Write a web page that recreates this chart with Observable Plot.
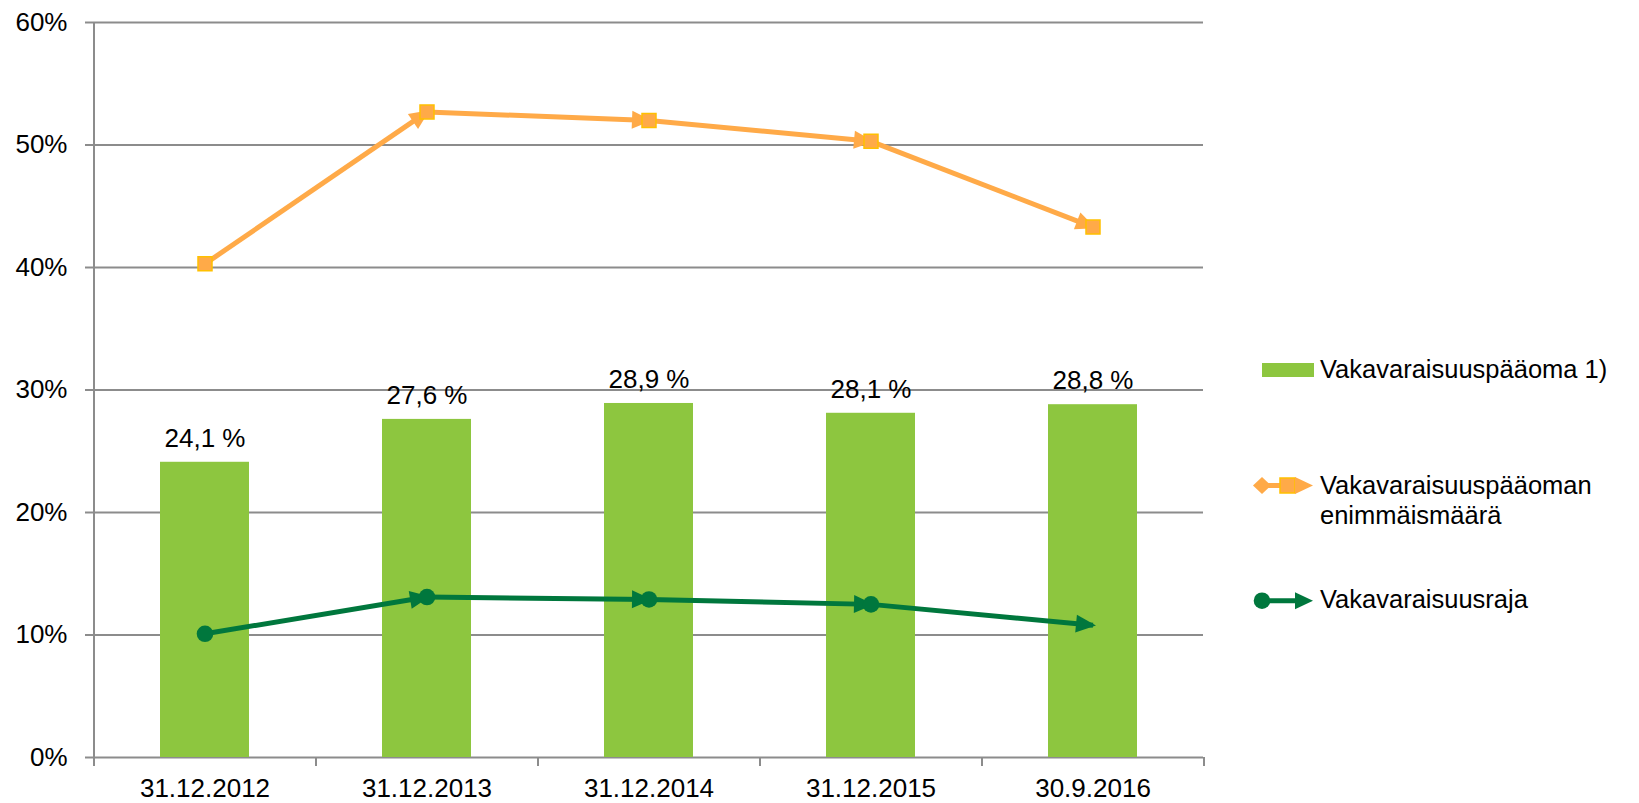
<!DOCTYPE html>
<html><head><meta charset="utf-8">
<script src="https://cdn.jsdelivr.net/npm/d3@7"></script>
<script src="https://cdn.jsdelivr.net/npm/@observablehq/plot@0.6"></script>
<style>
body{margin:0;background:#fff;}
#wrap{position:relative;width:1639px;height:803px;overflow:hidden;}
#legend{position:absolute;left:0;top:0;pointer-events:none;}
</style></head><body><div id="wrap"></div>
<script>
// ---- data ----
const categories = ["31.12.2012", "31.12.2013", "31.12.2014", "31.12.2015", "30.9.2016"];
const vakavaraisuuspaaoma = [24.1, 27.6, 28.9, 28.1, 28.8];
const enimmaismaara = [40.3, 52.7, 52.0, 50.3, 43.3];
const vakavaraisuusraja = [10.1, 13.1, 12.9, 12.5, 10.8];
const rajaPointMarker = [true, true, true, true, false];
const yTicks = [0, 10, 20, 30, 40, 50, 60];
const seriesNames = ["Vakavaraisuuspääoma 1)", ["Vakavaraisuuspääoman", "enimmäismäärä"], "Vakavaraisuusraja"];

// ---- style ----
const GREEN = "#8DC63F", ORANGE = "#FFAA48", ORANGE_EDGE = "#FFC000", DARK = "#00773D", GRID = "#8C8C8C";
const FONT = "'Liberation Sans', Arial, sans-serif";
const FS = 26;
const W = 1639, H = 803, ML = 93, MR = 436, MT = 22, MB = 46;
const step = (W - ML - MR) / categories.length;
const plotH = H - MT - MB;

const bars = categories.map((c, i) => ({c, v: vakavaraisuuspaaoma[i], label: vakavaraisuuspaaoma[i].toFixed(1).replace(".", ",") + " %"}));
const pts = (vals) => categories.map((c, i) => ({c, v: vals[i], i}));
const segs = (vals) => vals.slice(1).map((v, i) => ({c1: categories[i], v1: vals[i], c2: categories[i + 1], v2: v}));

const chart = Plot.plot({
  width: W, height: H,
  marginLeft: ML, marginRight: MR, marginTop: MT, marginBottom: MB,
  style: {fontFamily: FONT, fontSize: FS + "px", color: "#000", background: "#fff"},
  x: {domain: categories, paddingInner: 0.6, paddingOuter: 0.3, label: null},
  y: {domain: [0, 60], label: null},
  marks: [
    Plot.gridY(yTicks, {stroke: GRID, strokeOpacity: 1, strokeWidth: 2}),
    Plot.barY(bars, {x: "c", y: "v", fill: GREEN}),
    Plot.ruleX([categories[0]], {dx: -step / 2, stroke: GRID, strokeWidth: 2, insetBottom: -9}),
    Plot.ruleX(categories, {dx: -step / 2, stroke: GRID, strokeWidth: 2, insetTop: plotH, insetBottom: -9}),
    Plot.ruleX([categories[categories.length - 1]], {dx: step / 2, stroke: GRID, strokeWidth: 2, insetTop: plotH, insetBottom: -9}),
    Plot.axisY(yTicks, {tickSize: 8, tickPadding: 18, stroke: GRID, strokeWidth: 2, fill: "#000", fontSize: FS, tickFormat: d => d + "%", label: null}),
    Plot.axisX({tickSize: 0, tickPadding: 21, fill: "#000", fontSize: FS, label: null}),
    Plot.text(bars, {x: "c", y: "v", text: "label", dy: -24, fill: "#000", fontSize: FS}),
    Plot.link(segs(enimmaismaara), {x1: "c1", y1: "v1", x2: "c2", y2: "v2", stroke: ORANGE, strokeWidth: 5, markerEnd: "arrow"}),
    Plot.dot(pts(enimmaismaara), {x: "c", y: "v", symbol: "square", r: 7.9, fill: ORANGE, stroke: ORANGE_EDGE, strokeWidth: 1.5}),
    Plot.link(segs(vakavaraisuusraja), {x1: "c1", y1: "v1", x2: "c2", y2: "v2", stroke: DARK, strokeWidth: 5, markerEnd: "arrow"}),
    Plot.dot(pts(vakavaraisuusraja).filter(d => rajaPointMarker[d.i]), {x: "c", y: "v", r: 8.3, fill: DARK, stroke: "none"})
  ]
});

// filled triangular arrowheads
chart.querySelectorAll("marker").forEach(m => {
  const col = m.getAttribute("stroke");
  m.setAttribute("viewBox", "-25 -12 32 24");
  m.setAttribute("markerUnits", "userSpaceOnUse");
  m.setAttribute("markerWidth", 32);
  m.setAttribute("markerHeight", 24);
  m.setAttribute("fill", col);
  m.setAttribute("stroke", "none");
  m.setAttribute("overflow", "visible");
  const p = m.querySelector("path");
  p.setAttribute("d", "M-17,-9L3,0L-17,9Z");
});

const wrap = document.getElementById("wrap");
wrap.appendChild(chart);

// ---- legend ----
const lg = d3.select(wrap).append("svg").attr("id", "legend").attr("width", W).attr("height", H)
  .style("font-family", FONT).style("font-size", "25.5px");
const tri = (x, y) => `M${x - 18},${y - 8.5}L${x},${y}L${x - 18},${y + 8.5}Z`;
// item 1
lg.append("rect").attr("x", 1262).attr("y", 363).attr("width", 52).attr("height", 14).attr("fill", GREEN);
lg.append("text").attr("x", 1320).attr("y", 378).text(seriesNames[0]);
// item 2
const y2 = 485.5;
lg.append("line").attr("x1", 1262).attr("x2", 1300).attr("y1", y2).attr("y2", y2).attr("stroke", ORANGE).attr("stroke-width", 5);
lg.append("path").attr("d", `M1253,${y2}L1262,${y2 - 8.5}L1271,${y2}L1262,${y2 + 8.5}Z`).attr("fill", ORANGE);
lg.append("rect").attr("x", 1280).attr("y", y2 - 7.5).attr("width", 15).attr("height", 15).attr("fill", ORANGE).attr("stroke", ORANGE_EDGE).attr("stroke-width", 1.5);
lg.append("path").attr("d", tri(1313, y2)).attr("fill", ORANGE);
const t2 = lg.append("text").attr("x", 1320).attr("y", 494);
t2.append("tspan").attr("x", 1320).text(seriesNames[1][0]);
t2.append("tspan").attr("x", 1320).attr("dy", 29.5).text(seriesNames[1][1]);
// item 3
const y3 = 600.7;
lg.append("line").attr("x1", 1262).attr("x2", 1300).attr("y1", y3).attr("y2", y3).attr("stroke", DARK).attr("stroke-width", 5);
lg.append("circle").attr("cx", 1262).attr("cy", y3).attr("r", 8.3).attr("fill", DARK);
lg.append("path").attr("d", tri(1313, y3)).attr("fill", DARK);
lg.append("text").attr("x", 1320).attr("y", 608.3).text(seriesNames[2]);
</script></body></html>
